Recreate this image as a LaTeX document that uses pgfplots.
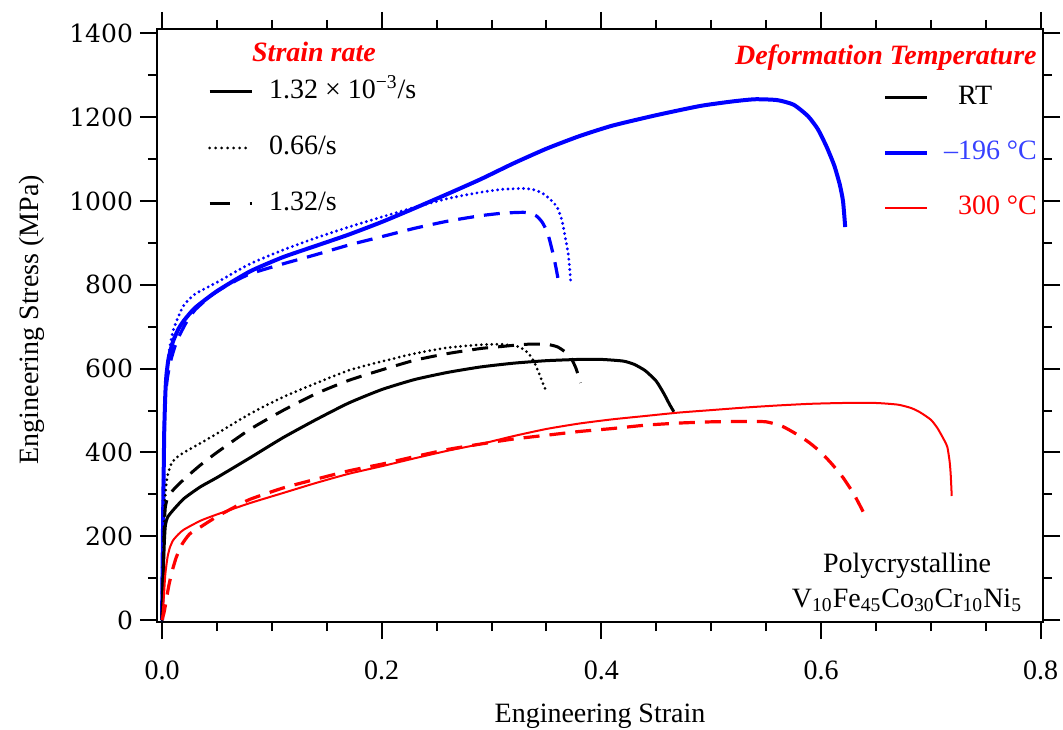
\documentclass[border=0pt]{standalone}
\usepackage{pgfplots}
\pgfplotsset{compat=1.18}
\usepackage{fontspec}
\setmainfont{Liberation Serif}
\newfontfamily\yfont{DejaVu Serif}

\definecolor{cblue}{RGB}{0,0,255}
\definecolor{cred}{RGB}{255,0,0}
\definecolor{tblue}{RGB}{55,65,255}

\pgfplotsset{
  dotline/.style={line cap=round, dash pattern=on 0pt off 2.6pt},
  dashline/.style={dash pattern=on 8pt off 5pt},
  curve/.style={smooth, tension=0.35, forget plot},
}

\begin{document}
\begin{tikzpicture}
\begin{axis}[
  name=ax,
  scale only axis, width=443pt, height=296.5pt,
  xmin=-0.0046, xmax=0.8021, ymin=-4.8, ymax=1410.7,
  xtick={0,0.2,0.4,0.6,0.8},
  xticklabels={0.0,0.2,0.4,0.6,0.8},
  ytick={0,200,400,600,800,1000,1200,1400},
  yticklabels={0,200,400,600,800,1000,1200,1400},
  minor x tick num=3, minor y tick num=1,
  tick align=outside,
  major tick length=8.5pt, minor tick length=4.5pt,
  every tick/.style={black, line width=1pt},
  axis line style={line width=1.2pt},
  xticklabel style={font=\fontsize{14}{16}\selectfont, yshift=-7.5pt},
  yticklabel style={font=\yfont\fontsize{12.5}{14}\selectfont},
  xlabel={Engineering Strain},
  ylabel={Engineering Stress (MPa)},
  xlabel style={font=\fontsize{14}{16}\selectfont, at={(axis description cs:0.5,0)}, anchor=base, yshift=-50pt},
  ylabel style={font=\fontsize{14}{16}\selectfont, at={(axis description cs:-0.1343,0.51)}, anchor=base},
  legend image code/.code={\draw[#1] (0pt,0pt) -- (21pt,0pt);},
  legend cell align=left,
  legend style={at={(axis description cs:0.0576,0.9157)}, anchor=north west,
    draw=none, fill=none, inner sep=0pt, outer sep=0pt,
    row sep=15pt, column sep=8pt, font=\fontsize{14}{16}\selectfont,
    nodes={inner sep=0pt, text height=10pt, text depth=3pt}},
]

% -196 C, 1.32e-3/s
\addplot[cblue, line width=2pt, curve] coordinates {
(0,0) (0.001,250) (0.002,450) (0.003,540) (0.004,585) (0.006,625) (0.01,665)
(0.015,695) (0.02,715) (0.03,745) (0.05,785) (0.08,832) (0.11,866) (0.14,893)
(0.17,920) (0.20,950) (0.23,983) (0.26,1017) (0.29,1052) (0.32,1090) (0.35,1125)
(0.38,1155) (0.41,1180) (0.45,1205) (0.49,1227) (0.52,1238) (0.54,1243) (0.56,1241)
(0.575,1230) (0.588,1203) (0.597,1172) (0.605,1130) (0.612,1085) (0.617,1040)
(0.62,1000) (0.622,938)};
% -196 C, 0.66/s
\addplot[cblue, line width=1.6pt, dotline, curve] coordinates {
(0,0) (0.001,280) (0.002,450) (0.003,540) (0.005,610) (0.007,650) (0.01,690)
(0.015,725) (0.02,752) (0.03,778) (0.05,806) (0.08,850) (0.11,883) (0.14,912)
(0.17,938) (0.20,962) (0.23,985) (0.26,1006) (0.29,1021) (0.31,1028) (0.33,1030)
(0.34,1026) (0.348,1016) (0.355,1000) (0.36,984) (0.364,955) (0.367,915)
(0.37,870) (0.372,810)};
% -196 C, 1.32/s
\addplot[cblue, line width=1.6pt, dashline, curve] coordinates {
(0,0) (0.001,250) (0.002,450) (0.003,530) (0.005,580) (0.008,620) (0.012,655)
(0.016,680) (0.022,710) (0.03,740) (0.045,775) (0.06,800) (0.08,826) (0.11,850)
(0.14,872) (0.17,895) (0.20,915) (0.23,935) (0.26,952) (0.29,965) (0.31,971)
(0.33,973) (0.34,966) (0.346,950) (0.351,924) (0.355,885) (0.358,850) (0.361,808)};

% RT, 1.32e-3/s
\addplot[black, line width=1.5pt, curve] coordinates {
(0,0) (0.001,100) (0.002,180) (0.003,225) (0.005,245) (0.01,262) (0.02,290)
(0.035,318) (0.05,340) (0.08,387) (0.11,435) (0.14,478) (0.17,518) (0.20,550)
(0.23,574) (0.26,591) (0.29,604) (0.32,613) (0.35,619) (0.38,622) (0.40,622)
(0.42,618) (0.43,610) (0.44,595) (0.45,570) (0.457,540) (0.462,515) (0.466,497)};
% RT, 0.66/s
\addplot[black, line width=1.5pt, dotline, curve] coordinates {
(0,0) (0.001,120) (0.002,230) (0.003,300) (0.005,345) (0.008,370) (0.012,385)
(0.02,400) (0.035,422) (0.05,445) (0.08,492) (0.11,532) (0.14,565) (0.17,596)
(0.20,617) (0.23,636) (0.26,650) (0.29,657) (0.31,658) (0.325,652) (0.333,638)
(0.338,620) (0.342,597) (0.346,570) (0.35,544)};
% RT, 1.32/s
\addplot[black, line width=1.5pt, dashline, curve] coordinates {
(0,0) (0.001,120) (0.002,220) (0.003,270) (0.005,290) (0.01,310) (0.02,336)
(0.035,370) (0.05,400) (0.08,455) (0.11,500) (0.14,540) (0.17,572) (0.20,597)
(0.23,620) (0.26,636) (0.29,648) (0.31,653) (0.33,658) (0.35,658) (0.36,652)
(0.368,638) (0.373,622) (0.377,600) (0.381,566)};

% 300 C, 1.32e-3/s
\addplot[cred, line width=1pt, curve] coordinates {
(0,0) (0.001,30) (0.002,70) (0.003,110) (0.005,150) (0.007,172) (0.01,190)
(0.015,205) (0.02,216) (0.035,237) (0.05,252) (0.08,279) (0.11,303) (0.14,327)
(0.17,349) (0.20,367) (0.23,386) (0.26,404) (0.29,420) (0.32,439) (0.35,456)
(0.38,469) (0.41,479) (0.44,487) (0.47,495) (0.50,501) (0.53,507) (0.56,512)
(0.59,516) (0.62,518) (0.65,518) (0.67,514) (0.682,506) (0.69,496) (0.70,478)
(0.706,458) (0.712,430) (0.715,413) (0.717,380) (0.718,350) (0.719,296)};
% 300 C, 1.32/s
\addplot[cred, line width=1.6pt, dashline, curve] coordinates {
(0,0) (0.002,20) (0.004,50) (0.006,80) (0.009,115) (0.013,150) (0.018,180)
(0.025,205) (0.035,222) (0.05,247) (0.065,268) (0.08,288) (0.11,315) (0.14,336)
(0.17,356) (0.20,372) (0.23,390) (0.26,407) (0.29,420) (0.32,432) (0.35,441)
(0.38,450) (0.41,457) (0.44,465) (0.47,470) (0.50,473) (0.53,474) (0.55,473)
(0.565,462) (0.58,440) (0.59,422) (0.60,400) (0.61,372) (0.62,340) (0.63,300) (0.639,255)};

% strain-rate key
\addlegendimage{black, line width=1.5pt}
\addlegendentry{1.32 × 10\textsuperscript{−3}/s}
\addlegendimage{black, line width=1.5pt, line cap=round, dash pattern=on 0pt off 3pt}
\addlegendentry{0.66/s}
\addlegendimage{black, line width=1.5pt, dash pattern=on 10pt off 10pt}
\addlegendentry{1.32/s}

\node[anchor=base, inner sep=0pt, text=cred, font=\bfseries\itshape\fontsize{14}{16}\selectfont]
  at (axis description cs:0.1772,0.9444) {Strain rate};
\node[anchor=base east, inner sep=0pt, text=cred, font=\bfseries\itshape\fontsize{14}{16}\selectfont]
  at (axis description cs:0.9932,0.9393) {Deformation Temperature};
\node[anchor=base, inner sep=0pt, font=\fontsize{14}{16}\selectfont]
  at (axis description cs:0.8465,0.0843) {Polycrystalline};
\node[anchor=base, inner sep=0pt, font=\fontsize{14}{16}\selectfont]
  at (axis description cs:0.8465,0.0253)
  {V\textsubscript{10}Fe\textsubscript{45}Co\textsubscript{30}Cr\textsubscript{10}Ni\textsubscript{5}};
\end{axis}

% temperature key
\begin{axis}[
  at={(ax.south west)}, anchor=south west,
  scale only axis, width=443pt, height=296.5pt,
  hide axis, xmin=0, xmax=1, ymin=0, ymax=1,
  legend image code/.code={\draw[#1] (0pt,0pt) -- (21pt,0pt);},
  legend cell align=left,
  legend style={at={(axis description cs:0.8194,0.9056)}, anchor=north west,
    draw=none, fill=none, inner sep=0pt, outer sep=0pt,
    row sep=14.5pt, column sep=14.5pt, font=\fontsize{14}{16}\selectfont,
    nodes={inner sep=0pt, text height=10pt, text depth=3pt}},
]
\addlegendimage{black, line width=1.5pt}
\addlegendentry{RT}
\addlegendimage{cblue, line width=2pt}
\addlegendentry{\textcolor{tblue}{\llap{–}196 °C}}
\addlegendimage{cred, line width=1pt}
\addlegendentry{\textcolor{cred}{300 °C}}
\end{axis}

\pgfresetboundingbox
\path[use as bounding box] ([xshift=-78.5pt,yshift=-53.5pt]ax.south west)
  rectangle ([xshift=10pt,yshift=14.5pt]ax.north east);
\end{tikzpicture}
\end{document}
